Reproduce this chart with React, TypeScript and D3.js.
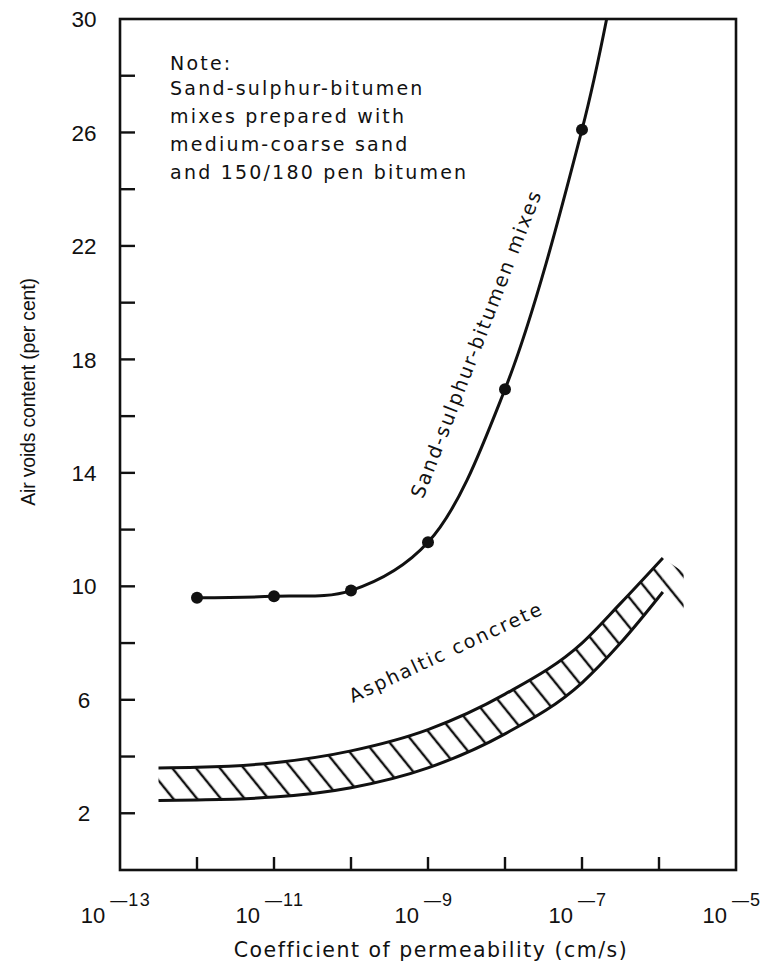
import React from 'react';
import * as d3 from 'd3';

// sand-sulphur-bitumen mixes: measured points (log10 permeability, air voids %)
const sandExp = [-12, -11, -10, -9, -8, -7];
const sandVoids = [9.6, 9.65, 9.85, 11.55, 16.95, 26.1];
// where the drawn curve leaves the top of the frame
const sandEndExp = -6.68;
const sandEndVoids = 30;

// asphaltic concrete band
const bandExp = [-12.5, -12, -11, -10, -9, -8, -7, -6.5, -5.95];
const bandUpper = [3.6, 3.62, 3.78, 4.2, 4.95, 6.2, 8.0, 9.4, 11.0];
const bandLower = [2.45, 2.47, 2.57, 2.9, 3.6, 4.8, 6.6, 8.0, 9.8];
// loose hatch strokes past the end of the band
const tailExp = [-5.95, -5.68];
const tailUpper = [11.0, 10.5];
const tailLower = [9.8, 9.2];

const yTicks = d3.range(2, 30, 2);
const yLabels = [2, 6, 10, 14, 18, 22, 26, 30];
const xTickExp = [-12, -11, -10, -9, -8, -7, -6];
const xLabelExp = [-13, -11, -9, -7, -5];

const noteLines = [
  'Note:',
  'Sand-sulphur-bitumen',
  'mixes prepared with',
  'medium-coarse sand',
  'and 150/180 pen bitumen',
];

const width = 760;
const height = 966;
const margin = { top: 19, right: 24, bottom: 96, left: 120 };
const sans = '"Liberation Sans", Arial, sans-serif';
const wide = '"DejaVu Sans", sans-serif';
const ink = '#111';

type Row = { x: number; up: number; lo: number };

export default function App() {
  const x = d3
    .scaleLog()
    .domain([1e-13, 1e-5])
    .range([margin.left, width - margin.right]);
  const y = d3
    .scaleLinear()
    .domain([0, 30])
    .range([height - margin.bottom, margin.top]);

  const px = (e: number) => x(Math.pow(10, e));

  const sandPts: [number, number][] = sandExp.map((e, i) => [px(e), y(sandVoids[i])]);
  sandPts.push([px(sandEndExp), y(sandEndVoids)]);
  const sandLine = d3.line().curve(d3.curveCatmullRom.alpha(0.5))(sandPts) || '';

  const rows = (ex: number[], up: number[], lo: number[]): Row[] =>
    ex.map((e, i) => ({ x: px(e), up: y(up[i]), lo: y(lo[i]) }));
  const bandRows = rows(bandExp, bandUpper, bandLower);
  const tailRows = rows(tailExp, tailUpper, tailLower);

  const area = d3
    .area<Row>()
    .x((d) => d.x)
    .y0((d) => d.lo)
    .y1((d) => d.up)
    .curve(d3.curveMonotoneX);
  const edge = (key: 'up' | 'lo') =>
    d3
      .line<Row>()
      .x((d) => d.x)
      .y((d) => d[key])
      .curve(d3.curveMonotoneX)(bandRows) || '';

  const x0 = margin.left;
  const x1 = width - margin.right;
  const y0 = height - margin.bottom;
  const y1 = margin.top;

  return (
    <svg
      width={width}
      height={height}
      style={{ position: 'absolute', left: 0, top: 0, background: '#fff' }}
      fontFamily={sans}
    >
      <defs>
        <pattern
          id="hatch"
          patternUnits="userSpaceOnUse"
          width={18.5}
          height={18.5}
          patternTransform="rotate(-39)"
        >
          <line x1={2} y1={-2} x2={2} y2={21} stroke={ink} strokeWidth={2.4} />
        </pattern>
      </defs>

      {/* frame */}
      <rect x={x0} y={y1} width={x1 - x0} height={y0 - y1} fill="none" stroke={ink} strokeWidth={2.6} />

      {/* y ticks, inward */}
      {yTicks.map((t) => (
        <line key={t} x1={x0} x2={x0 + 15} y1={y(t)} y2={y(t)} stroke={ink} strokeWidth={2.4} />
      ))}
      {yLabels.map((t) => (
        <text key={t} x={84} y={y(t)} dy="0.36em" textAnchor="middle" fontSize={22.5} fill={ink}>
          {t}
        </text>
      ))}

      {/* x ticks, inward */}
      {xTickExp.map((e) => (
        <line key={e} x1={px(e)} x2={px(e)} y1={y0} y2={y0 - 13} stroke={ink} strokeWidth={2.4} />
      ))}
      {xLabelExp.map((e) => (
        <text key={e} x={px(e) - 4} y={y0 + 53} textAnchor="middle" fontSize={22} fill={ink}>
          <tspan>10</tspan>
          <tspan dx={5} dy={-17} fontSize={17}>
            {'\u2014'}
          </tspan>
          <tspan dx={1} fontSize={18} letterSpacing={1.5}>
            {Math.abs(e)}
          </tspan>
        </text>
      ))}

      {/* axis titles */}
      <text
        x={431}
        y={height - 9}
        textAnchor="middle"
        fontFamily={wide}
        fontSize={20.5}
        letterSpacing={1.5}
        fill={ink}
      >
        Coefficient of permeability (cm/s)
      </text>
      <text
        transform={`translate(35, ${y(16.85)}) rotate(-90)`}
        textAnchor="middle"
        fontSize={19.5}
        letterSpacing={-0.2}
        fill={ink}
      >
        Air voids content (per cent)
      </text>

      {/* note */}
      {noteLines.map((s, i) => (
        <text
          key={s}
          x={px(-12.35)}
          y={y(28.2) - (i === 0 ? 0 : 3) + i * 28}
          fontFamily={wide}
          fontSize={19}
          letterSpacing={2.2}
          fill={ink}
        >
          {s}
        </text>
      ))}

      {/* asphaltic concrete band */}
      <path d={area(bandRows) || ''} fill="url(#hatch)" />
      <path d={area(tailRows) || ''} fill="url(#hatch)" />
      <path d={edge('up')} fill="none" stroke={ink} strokeWidth={3} />
      <path d={edge('lo')} fill="none" stroke={ink} strokeWidth={3} />
      <text
        transform={`translate(${px(-8.73)}, ${y(7.47)}) rotate(-25)`}
        textAnchor="middle"
        fontFamily={wide}
        fontSize={19}
        letterSpacing={2}
        fill={ink}
      >
        Asphaltic concrete
      </text>

      {/* sand-sulphur-bitumen curve */}
      <path d={sandLine} fill="none" stroke={ink} strokeWidth={3} />
      {sandExp.map((e, i) => (
        <circle key={e} cx={px(e)} cy={y(sandVoids[i])} r={6} fill={ink} />
      ))}
      <text
        transform={`translate(${px(-8.37)}, ${y(18.55)}) rotate(-68.8)`}
        textAnchor="middle"
        dominantBaseline="central"
        fontFamily={wide}
        fontSize={19.5}
        letterSpacing={1.9}
        fill={ink}
      >
        Sand-sulphur-bitumen mixes
      </text>
    </svg>
  );
}
